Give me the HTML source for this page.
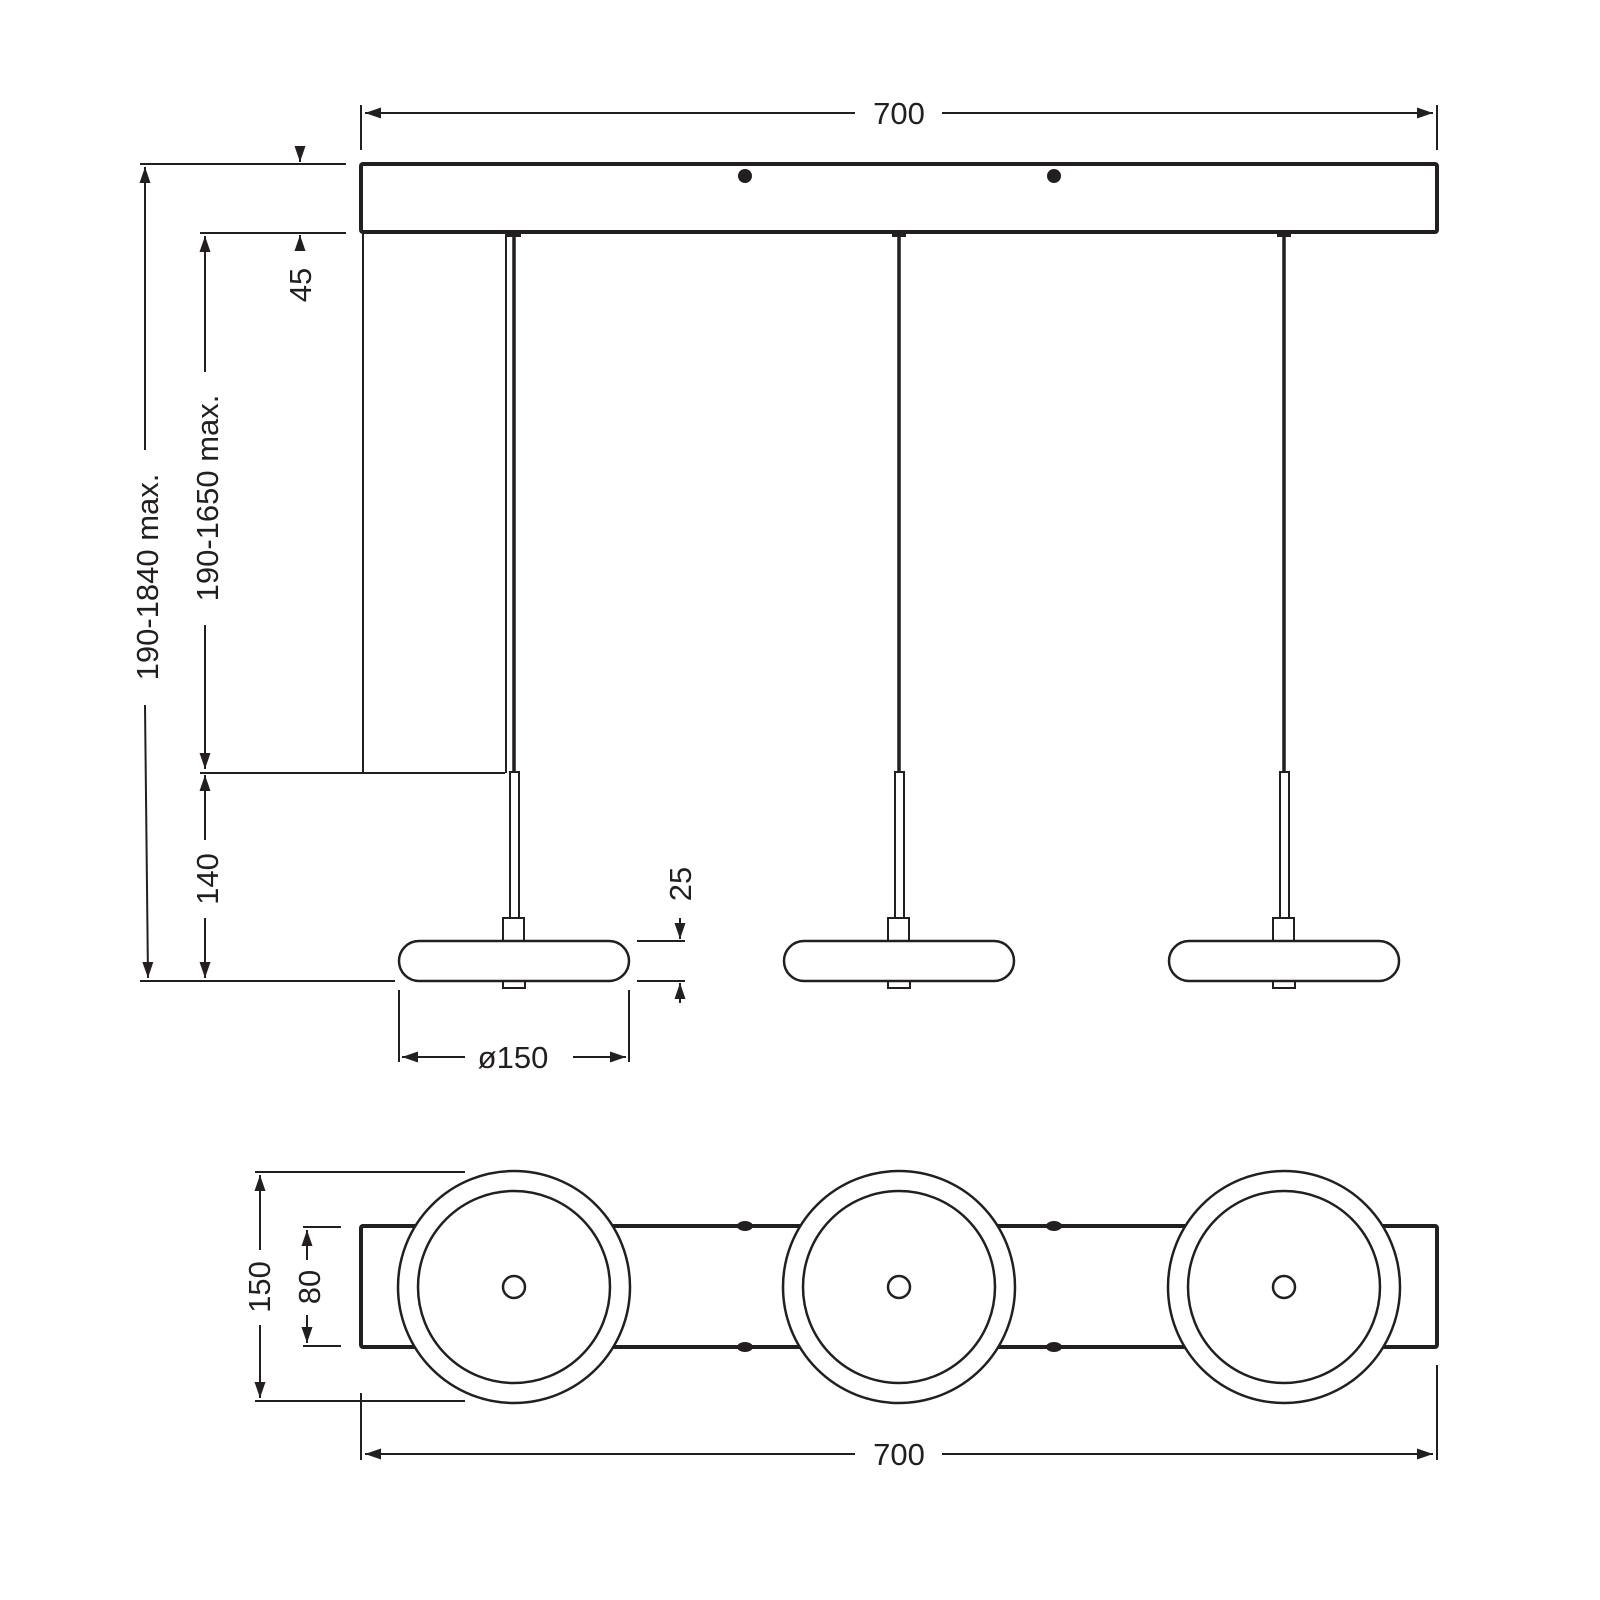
<!DOCTYPE html>
<html><head><meta charset="utf-8"><style>
html,body{margin:0;padding:0;background:#fff}
svg{display:block}
text{font-family:"Liberation Sans",sans-serif;font-size:31px;fill:#231f20}
</style></head><body>
<svg width="1600" height="1600" viewBox="0 0 1600 1600" xmlns="http://www.w3.org/2000/svg">
<defs>
<marker id="a" viewBox="0 0 10 10" refX="10" refY="5" markerWidth="16" markerHeight="11" markerUnits="userSpaceOnUse" orient="auto-start-reverse" preserveAspectRatio="none"><path d="M0,0 L10,5 L0,10z" fill="#231f20"/></marker>
</defs>
<g stroke="#231f20" fill="none" stroke-width="2">
<line x1="361" y1="105" x2="361" y2="150"/><line x1="1437" y1="105" x2="1437" y2="150"/>
<line x1="365" y1="113" x2="855" y2="113" marker-start="url(#a)"/>
<line x1="942" y1="113" x2="1433" y2="113" marker-end="url(#a)"/>
<rect x="361" y="164" width="1076" height="68" stroke-width="4" rx="2"/>
<line x1="140" y1="164" x2="346" y2="164"/>
<line x1="200" y1="233" x2="346" y2="233"/>
<line x1="300" y1="147" x2="300" y2="162" marker-end="url(#a)"/>
<line x1="300" y1="250" x2="300" y2="235" marker-end="url(#a)"/>
<line x1="145" y1="450" x2="145" y2="167" marker-end="url(#a)"/>
<line x1="145" y1="705" x2="148" y2="978" marker-end="url(#a)"/>
<line x1="205" y1="372" x2="205" y2="236" marker-end="url(#a)"/>
<line x1="205" y1="625" x2="205" y2="769" marker-end="url(#a)"/>
<line x1="205" y1="840" x2="205" y2="775" marker-end="url(#a)"/>
<line x1="205" y1="918" x2="205" y2="978" marker-end="url(#a)"/>
<line x1="200" y1="773" x2="505" y2="773"/>
<line x1="140" y1="981" x2="395" y2="981"/>
<line x1="363" y1="233" x2="363" y2="773"/>
<line x1="506" y1="233" x2="506" y2="773"/>
<g id="p">
<line x1="514" y1="236" x2="514" y2="772" stroke-width="3.5"/>
<rect x="510" y="772" width="9" height="146"/>
<rect x="503" y="918" width="21" height="23"/>
<rect x="503" y="981" width="22" height="7"/>
<rect x="399" y="941" width="230" height="40" rx="20" stroke-width="2.5" fill="#fff"/>
<rect x="507" y="231" width="14" height="6" fill="#231f20" stroke="none"/>
</g>
<use href="#p" x="385"/>
<use href="#p" x="770"/>
<line x1="637" y1="941" x2="685" y2="941"/>
<line x1="637" y1="981" x2="685" y2="981"/>
<line x1="680" y1="918" x2="680" y2="939" marker-end="url(#a)"/>
<line x1="680" y1="1003" x2="680" y2="983" marker-end="url(#a)"/>
<line x1="399" y1="990" x2="399" y2="1062"/><line x1="629" y1="990" x2="629" y2="1062"/>
<line x1="402" y1="1057" x2="465" y2="1057" marker-start="url(#a)"/>
<line x1="573" y1="1057" x2="626" y2="1057" marker-end="url(#a)"/>
<rect x="361" y="1226" width="1076" height="121" stroke-width="4" rx="2"/>
<g fill="#231f20" stroke="none">
<ellipse cx="745" cy="1226" rx="8" ry="5"/><ellipse cx="1054" cy="1226" rx="8" ry="5"/>
<ellipse cx="745" cy="1347" rx="8" ry="5"/><ellipse cx="1054" cy="1347" rx="8" ry="5"/>
<circle cx="745" cy="176" r="7"/><circle cx="1054" cy="176" r="7"/>
</g>
<g stroke-width="2.5">
<circle cx="514" cy="1287" r="116" fill="#fff"/><circle cx="514" cy="1287" r="96"/><circle cx="514" cy="1287" r="11"/>
<circle cx="899" cy="1287" r="116" fill="#fff"/><circle cx="899" cy="1287" r="96"/><circle cx="899" cy="1287" r="11"/>
<circle cx="1284" cy="1287" r="116" fill="#fff"/><circle cx="1284" cy="1287" r="96"/><circle cx="1284" cy="1287" r="11"/>
</g>
<line x1="255" y1="1172" x2="465" y2="1172"/><line x1="255" y1="1401" x2="465" y2="1401"/>
<line x1="260" y1="1250" x2="260" y2="1175" marker-end="url(#a)"/>
<line x1="260" y1="1325" x2="260" y2="1398" marker-end="url(#a)"/>
<line x1="303" y1="1227" x2="341" y2="1227"/><line x1="303" y1="1346" x2="341" y2="1346"/>
<line x1="307" y1="1260" x2="307" y2="1230" marker-end="url(#a)"/>
<line x1="307" y1="1315" x2="307" y2="1343" marker-end="url(#a)"/>
<line x1="361" y1="1393" x2="361" y2="1460"/><line x1="1437" y1="1365" x2="1437" y2="1460"/>
<line x1="365" y1="1454" x2="855" y2="1454" marker-start="url(#a)"/>
<line x1="942" y1="1454" x2="1433" y2="1454" marker-end="url(#a)"/>
</g>
<text x="899" y="124" text-anchor="middle">700</text>
<text x="899" y="1465" text-anchor="middle">700</text>
<text x="513" y="1068" text-anchor="middle">ø150</text>
<text transform="translate(311,285) rotate(-90)" text-anchor="middle">45</text>
<text transform="translate(158,577) rotate(-90)" text-anchor="middle">190-1840 max.</text>
<text transform="translate(218,498) rotate(-90)" text-anchor="middle">190-1650 max.</text>
<text transform="translate(218,879) rotate(-90)" text-anchor="middle">140</text>
<text transform="translate(691,884) rotate(-90)" text-anchor="middle">25</text>
<text transform="translate(270,1287) rotate(-90)" text-anchor="middle">150</text>
<text transform="translate(320,1287) rotate(-90)" text-anchor="middle">80</text>
</svg>
</body></html>
